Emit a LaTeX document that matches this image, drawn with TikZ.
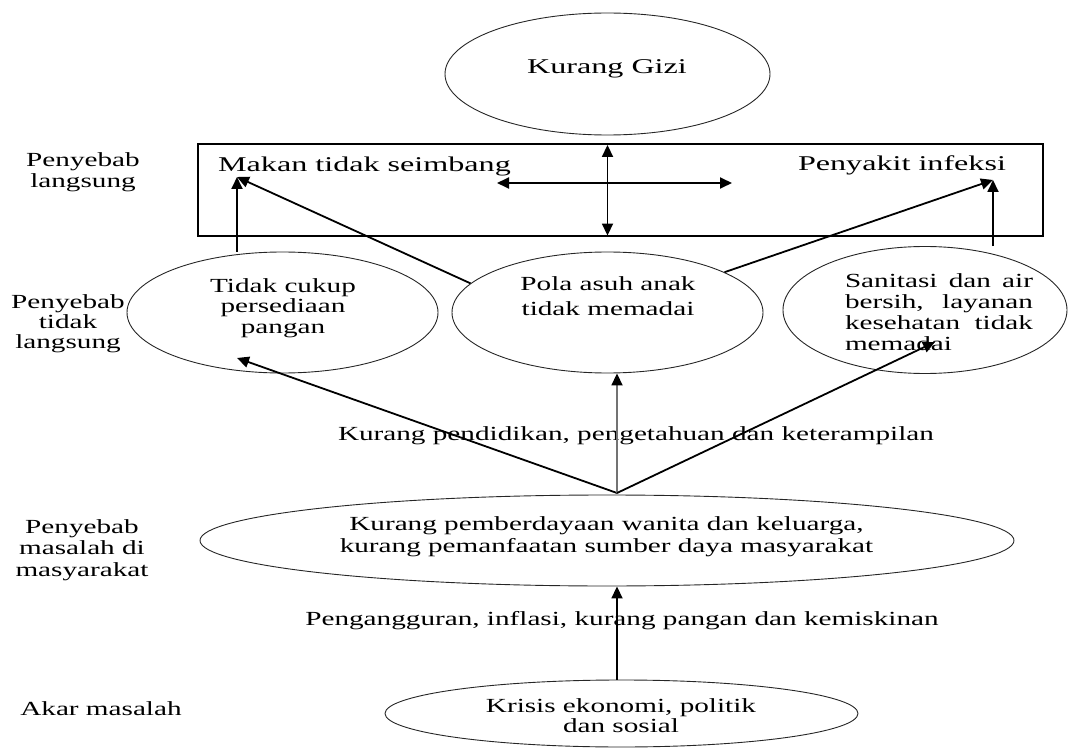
\documentclass[tikz,border=0pt]{standalone}
\usepackage{fontspec}
\setmainfont[FakeStretch=1.46]{Liberation Serif}
\newfontfamily\bigf[FakeStretch=1.53]{Liberation Serif}
\usetikzlibrary{arrows.meta,shapes.geometric}
\hyphenpenalty=10000
\exhyphenpenalty=10000
\begin{document}
\begin{tikzpicture}[x=1pt,y=-1pt,
  txt/.style={inner sep=0pt, font=\fontsize{20}{21}\selectfont, align=center},
  bigtxt/.style={inner sep=0pt, font=\bigf\fontsize{21}{22}\selectfont},
  oval/.style={draw=black!85, line width=0.9pt, ellipse, inner sep=0pt},
  conn/.style={line width=1.8pt, -{Triangle[length=12pt,width=11pt]}},
  dbl/.style={line width=1.8pt, {Triangle[length=12pt,width=11pt]}-{Triangle[length=12pt,width=11pt]}},
]
\useasboundingbox (0,0) rectangle (1088,749);

% top
\node[oval, minimum width=325pt, minimum height=122pt] (G) at (607.5,74) {};
\node[bigtxt] (tG) at (607,69.2) {Kurang Gizi};
\node[draw, line width=1.1pt, minimum width=845pt, minimum height=92pt, inner sep=0pt] (box) at (620.5,190) {};
\node[bigtxt] (tMk) at (364.5,166.2) {Makan tidak seimbang};
\node[bigtxt] (tPi) at (902,165.2) {Penyakit infeksi};

% indirect causes
\node[oval, minimum width=311pt, minimum height=121pt] (L) at (282.5,312.5) {};
\node[txt, font=\fontsize{20}{20.5}\selectfont] (tL) at (283,307.8) {Tidak cukup\\persediaan\\pangan};
\node[oval, minimum width=311pt, minimum height=121pt] (M) at (607.5,312.5) {};
\node[txt, font=\fontsize{20}{25}\selectfont] (tM) at (608,296.5) {Pola asuh anak\\tidak memadai};
\node[oval, minimum width=284pt, minimum height=127pt] (R) at (925,310) {};
\node[txt, text width=188pt, align=justify] (tR) at (939,311.7) {Sanitasi dan air bersih, layanan kesehatan tidak memadai};

% lower part
\node[txt] (tKp) at (636,435.3) {Kurang pendidikan, pengetahuan dan keterampilan};
\node[oval, minimum width=814pt, minimum height=91pt] (W) at (607,540.5) {};
\node[txt, font=\fontsize{20}{22}\selectfont] (tW) at (606.5,536.3) {Kurang pemberdayaan wanita dan keluarga,\\kurang pemanfaatan sumber daya masyarakat};
\node[txt] (tPg) at (622,620.3) {Pengangguran, inflasi, kurang pangan dan kemiskinan};
\node[oval, minimum width=473pt, minimum height=67pt] (K) at (621.5,713.5) {};
\node[txt, font=\fontsize{20}{20}\selectfont] (tK) at (621,715.2) {Krisis ekonomi, politik\\dan sosial};

% left labels
\node[txt, font=\fontsize{20}{20.5}\selectfont] (l1) at (83,172.3) {Penyebab\\langsung};
\node[txt, font=\fontsize{20}{20}\selectfont] (l2) at (68,323.3) {Penyebab\\tidak\\langsung};
\node[txt, font=\fontsize{20}{21.5}\selectfont] (l3) at (82,549.8) {Penyebab\\masalah di\\masyarakat};
\node[txt] (l4) at (101,709) {Akar masalah};

% connector end points
\coordinate (mkIn) at (237,177);
\coordinate (piIn) at (993,180);
\coordinate (hL) at (497,183);
\coordinate (hR) at (732,183);
\coordinate (C) at (617,493);
\coordinate (lIn) at (237,358);
\coordinate (rIn) at (935,342);

% connectors
\draw[conn] (mkIn |- L.north) -- (mkIn);
\draw[conn] (M.168) -- (mkIn);
\draw[conn] (M.19) -- (piIn);
\draw[conn] (piIn |- R.north) -- (piIn);
\draw[dbl, shorten <=1.5pt, shorten >=1pt] (G.south |- box.north) -- (G.south |- box.south);
\draw[dbl] (hL) -- (hR);
\draw[conn] (C) -- (lIn);
\draw[line width=1.8pt, draw=black!55, -{Triangle[length=12pt,width=11pt,color=black]}] (C) -- (C |- M.south);
\draw[conn] (C) -- (rIn);
\draw[conn] (C |- K.north) -- (C |- W.south);
\end{tikzpicture}
\end{document}
